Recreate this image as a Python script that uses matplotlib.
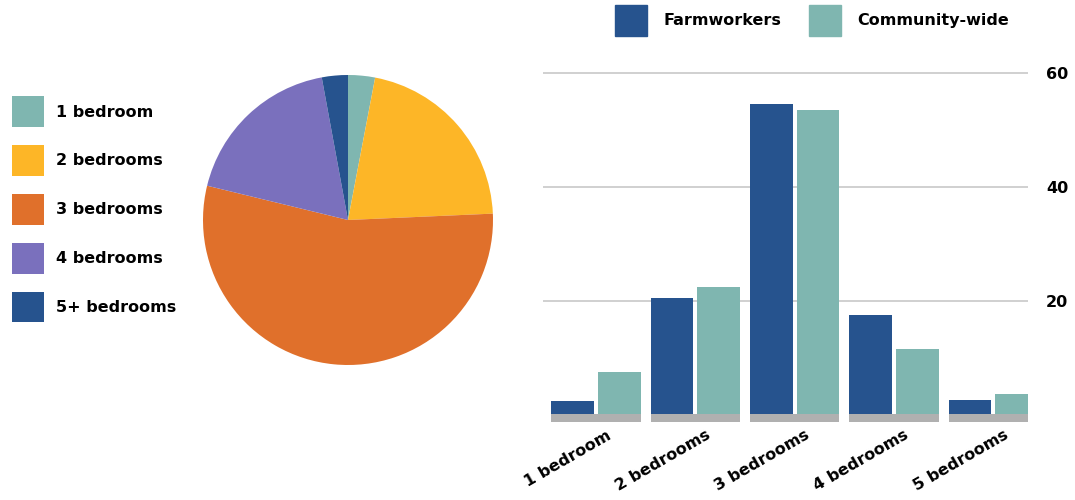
import numpy as np
import matplotlib.pyplot as plt
from matplotlib.patches import Patch

# bedroom mix, farmworker households (pie)
pie_labels = ["1 bedroom", "2 bedrooms", "3 bedrooms", "4 bedrooms", "5+ bedrooms"]
pie_shares = [3.0, 21.3, 54.5, 18.3, 2.9]
pie_colors = ["#7fb6b0", "#fdb627", "#e0702b", "#7a70bd", "#26538e"]

# farmworkers vs. community-wide (bars)
bar_cats = ["1 bedroom", "2 bedrooms", "3 bedrooms", "4 bedrooms", "5 bedrooms"]
farmworkers = [2.3, 20.4, 54.6, 17.4, 2.5]
community = [7.4, 22.4, 53.6, 11.5, 3.5]
y_ticks = [20, 40, 60]

NAVY = "#26538e"
TEAL = "#7fb6b0"

plt.rcParams['font.family'] = ['DejaVu Sans']
plt.rcParams['font.weight'] = 'bold'

fig = plt.figure(figsize=(10.75, 5), dpi=100)

# ---- pie ----
ax_pie = fig.add_axes([203 / 1075, 135 / 500, 290 / 1075, 290 / 500])
wedges, _ = ax_pie.pie(pie_shares, colors=pie_colors, startangle=90,
                       counterclock=False, radius=1.0)
ax_pie.set_xlim(-1, 1)
ax_pie.set_ylim(-1, 1)
ax_pie.set_aspect('equal')

fig.legend(wedges, pie_labels, loc='upper left', bbox_to_anchor=(-0.002, 0.836),
           frameon=False, fontsize=11.5, handlelength=2.0, handleheight=2.6,
           handletextpad=0.75, labelspacing=1.12, borderaxespad=0.5)

# ---- grouped bars ----
ax = fig.add_axes([543 / 1075, 0.156, (1028 - 543) / 1075, 0.7028])
x = np.arange(len(bar_cats))
w = 0.43
off = 0.235
ax.bar(x - off, farmworkers, width=w, color=NAVY, zorder=3)
ax.bar(x + off, community, width=w, color=TEAL, zorder=3)
# grey base strip under each group
ax.bar(x, [1.4] * len(x), bottom=-1.4, width=0.9, color="#b0b0b0", zorder=3)

ax.set_xlim(-0.534, 4.35)
ax.set_ylim(-1.4, 60.5)
ax.set_yticks(y_ticks)
ax.yaxis.tick_right()
ax.tick_params(axis='y', length=0, pad=13, labelsize=11.5)
ax.grid(axis='y', color="#c8c8c8", linewidth=1.2, zorder=0)
for s in ax.spines.values():
    s.set_visible(False)

ax.set_xticks(x + 0.1)
ax.set_xticklabels(bar_cats, rotation=30, ha='right', rotation_mode='anchor',
                   fontsize=11.5)
ax.tick_params(axis='x', length=0, pad=4)

handles = [Patch(color=NAVY), Patch(color=TEAL)]
fig.legend(handles, ["Farmworkers", "Community-wide"], loc='upper center',
           bbox_to_anchor=(812 / 1075, 1.006), ncol=2, frameon=False,
           fontsize=11.5, handlelength=2.0, handleheight=2.6,
           handletextpad=1.0, columnspacing=1.75, borderaxespad=0.1)

fig.savefig("out.png", dpi=100)
